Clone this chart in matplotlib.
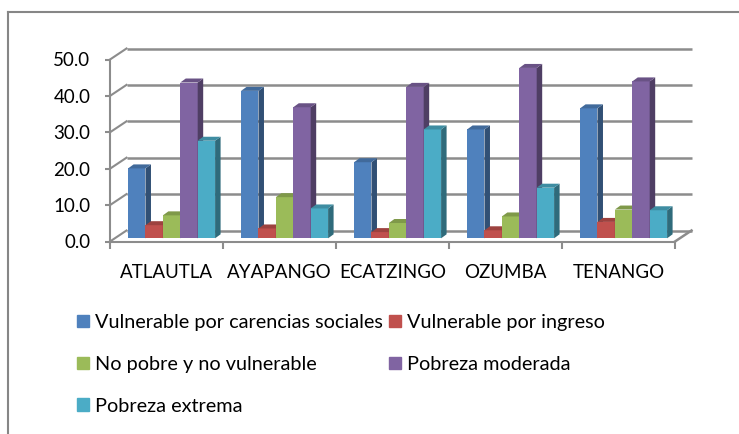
import numpy as np
import matplotlib
matplotlib.use("Agg")
import matplotlib.pyplot as plt
from matplotlib.patches import Polygon
from matplotlib.lines import Line2D
from matplotlib.colors import to_rgb

# Datos
municipios = ["ATLAUTLA", "AYAPANGO", "ECATZINGO", "OZUMBA", "TENANGO"]
series = ["Vulnerable por carencias sociales", "Vulnerable por ingreso",
          "No pobre y no vulnerable", "Pobreza moderada", "Pobreza extrema"]
carencias = [19.2, 40.5, 20.9, 29.9, 35.7]
ingreso = [3.6, 2.7, 1.7, 2.2, 4.5]
no_pobre = [6.3, 11.3, 4.2, 6.0, 7.9]
moderada = [42.8, 36.0, 41.6, 46.8, 43.1]
extrema = [26.8, 8.2, 29.9, 13.9, 7.7]
valores = [carencias, ingreso, no_pobre, moderada, extrema]
colores = ["#4F81BD", "#C0504D", "#9BBB59", "#8064A2", "#4BACC6"]
y_ticks = [0, 10, 20, 30, 40, 50]

plt.rcParams["font.family"] = ["Lato", "DejaVu Sans"]
FS = 13.5
FS_LEG = 14.3
GRIS = "#8C8C8C"

fig = plt.figure(figsize=(7.39, 4.34), dpi=100)
W, H = 739, 434
ax = fig.add_axes([110 / W, (H - 241.5) / H, 565 / W, 182 / H])
ax.set_xlim(-0.5, 4.5)
ax.set_ylim(0, 50)

# profundidad (en unidades de datos)
DX, DY = 16.5 / 113, 11 / 3.64          # paredes
BX, BY = 0.045, 0.88                   # cara frontal de las barras
BDX, BDY = 5.5 / 113, 4 / 3.64          # fondo de cada barra
w = 0.154

# paredes: lineas de cuadricula posterior y lateral
for v in y_ticks:
    ax.plot([-0.5 + DX, 4.5 + DX], [v + DY, v + DY], color=GRIS, lw=1.8,
            clip_on=False, zorder=1, solid_capstyle="butt")
    ax.plot([-0.5, -0.5 + DX], [v, v + DY], color=GRIS, lw=1.5,
            clip_on=False, zorder=1)
# borde derecho del piso
ax.plot([4.5, 4.5 + DX], [0, DY], color=GRIS, lw=1.8, clip_on=False, zorder=1)


def oscuro(c, f):
    r, g, b = to_rgb(c)
    return (r * f, g * f, b * f)


# barras con caras laterales y superiores
for i in range(len(municipios)):
    for j, vals in enumerate(valores):
        v = vals[i]
        x0 = i + (j - 2.5) * w + BX
        z = 10 + i * 10 + j * 2
        ax.bar(x0, v, width=w, bottom=BY, align="edge", color=colores[j],
               linewidth=0, zorder=z, clip_on=False)
        lado = [(x0 + w, BY), (x0 + w + BDX, BY + BDY),
                (x0 + w + BDX, BY + v + BDY), (x0 + w, BY + v)]
        tapa = [(x0, BY + v), (x0 + BDX, BY + v + BDY),
                (x0 + w + BDX, BY + v + BDY), (x0 + w, BY + v)]
        ax.add_patch(Polygon(lado, closed=True, color=oscuro(colores[j], 0.62),
                             lw=0, zorder=z, clip_on=False))
        ax.add_patch(Polygon(tapa, closed=True, color=oscuro(colores[j], 0.82),
                             lw=0, zorder=z, clip_on=False))

# ejes
for s in ["top", "right"]:
    ax.spines[s].set_visible(False)
for s in ["left", "bottom"]:
    ax.spines[s].set_color(GRIS)
    ax.spines[s].set_linewidth(1.5)
ax.set_yticks(y_ticks)
ax.set_yticklabels([f"{t:.1f}" for t in y_ticks], fontsize=FS)
ax.tick_params(axis="y", length=3.6, width=1.5, color=GRIS, pad=10.5)
ax.set_xticks(np.arange(-0.5, 5, 1))
ax.set_xticklabels([])
ax.tick_params(axis="x", which="major", length=4.7, width=1.5, color=GRIS)
ax.set_xticks(range(len(municipios)), minor=True)
ax.set_xticklabels(municipios, minor=True, fontsize=FS)
ax.tick_params(axis="x", which="minor", length=0, pad=16)
ax.patch.set_alpha(0)

# leyenda (orden por filas como en el original)
orden = [0, 2, 4, 1, 3]
handles = [plt.Rectangle((0, 0), 1, 1, color=colores[k]) for k in orden]
fig.legend(handles, [series[k] for k in orden], ncol=2, frameon=False,
           loc="upper left", bbox_to_anchor=(77 / W, 1 - 314 / H),
           fontsize=FS_LEG, handlelength=0.6, handleheight=0.6,
           handletextpad=0.3, columnspacing=0.3, labelspacing=1.25,
           borderpad=0, borderaxespad=0)

# borde del grafico
fig.add_artist(Line2D([8 / W, 8 / W], [0, 1 - 12 / H], color="#868686",
                      lw=1.5, transform=fig.transFigure))
fig.add_artist(Line2D([8 / W, 1], [1 - 12 / H, 1 - 12 / H], color="#868686",
                      lw=1.5, transform=fig.transFigure))

fig.savefig("out.png", dpi=100)
